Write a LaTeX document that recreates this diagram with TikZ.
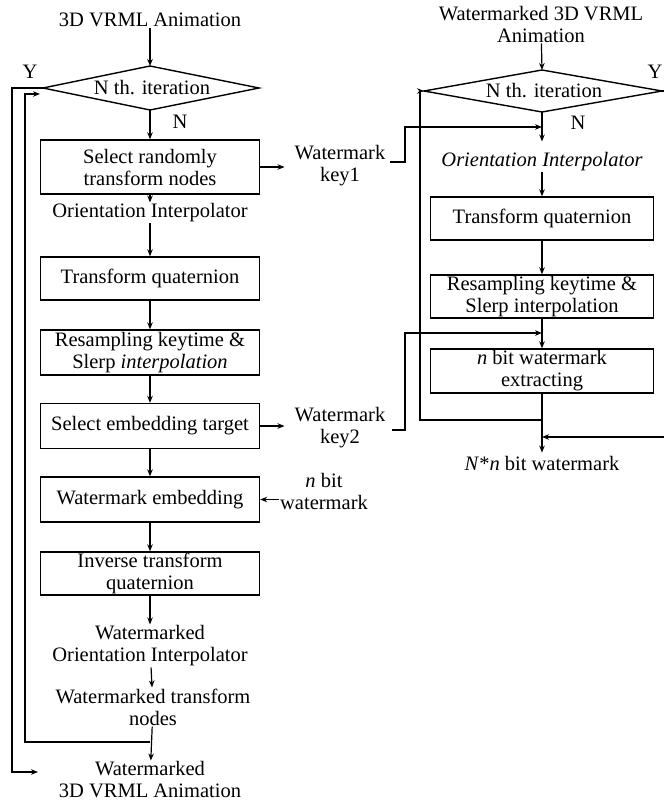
\documentclass[tikz,border=0pt]{standalone}
\usepackage{fontspec}
\setmainfont{Liberation Serif}
\usetikzlibrary{arrows.meta,calc}
\begin{document}
\begin{tikzpicture}[x=1pt,y=-1pt,
  txt/.style={font=\fontsize{20.5}{22}\selectfont, align=center, inner sep=1pt},
  box/.style={txt, draw, line width=1.4pt, minimum width=219pt, inner sep=0pt},
  conn/.style={line width=1.2pt},
  arr/.style={conn, -{Stealth[length=7pt,width=5.5pt]}},
  dmd/.style={line width=1.4pt, line join=miter}]
\useasboundingbox (0,0) rectangle (664,801);

% ---------------- left column ----------------
\node[txt] (t0) at (150,20) {3D VRML Animation};
\coordinate (d1t) at (150,66);
\coordinate (d1r) at (259,88);
\coordinate (d1b) at (150,110);
\coordinate (d1l) at (43,88);
\draw[dmd] (d1t) -- (d1r) -- (d1b) -- (d1l) -- cycle;
\node[txt] (d1) at (152,88) {N th. iteration};
\node[txt] (y1) at (30,72) {Y};
\node[txt] (n1) at (180,122) {N};

\node[box, minimum height=54pt] (b1) at (150,167) {Select randomly\\transform nodes};
\node[txt] (k1) at (340,166) {Watermark\\key1};
\node[txt] (o1) at (150,213) {Orientation Interpolator};
\node[box, minimum height=43pt] (b2) at (150,278.5) {Transform quaternion};
\node[box, minimum height=45pt] (b3) at (150,352.5) {Resampling keytime \&\\Slerp \textit{interpolation}};
\node[box, minimum height=45pt] (b4) at (150,426) {Select embedding target};
\node[txt] (k2) at (340,428) {Watermark\\key2};
\node[box, minimum height=45pt] (b5) at (150,499.5) {Watermark embedding};
\node[txt] (nb) at (324,491) {\textit{n} bit\\watermark};
\node[box, minimum height=43pt] (b6) at (150,573.5) {Inverse transform\\quaternion};
\node[txt] (o2) at (150,646) {Watermarked\\Orientation Interpolator};
\node[txt] (o3) at (153,707) {Watermarked transform\\nodes};
\node[txt] (o4) at (150,780) {Watermarked\\3D VRML Animation};

\draw[arr] (t0) -- (d1t);
\draw[arr] (d1b) -- (b1);
\draw[arr] (b1) -- (o1);
\draw[arr] (o1) -- (b2);
\draw[arr] (b2) -- (b3);
\draw[arr] (b3) -- (b4);
\draw[arr] (b4) -- (b5);
\draw[arr] (b5) -- (b6);
\draw[arr] (b6) -- (o2);
\draw[arr] (o2) -- (o3);
\draw[arr] (o3) -- (o4);
\draw[arr, shorten >=9pt] (b1.east) -- (b1.east -| k1.west);
\draw[arr, shorten >=9pt] (b4.east) -- (b4.east -| k2.west);
\draw[arr] (nb.west |- b5.east) -- (b5.east);

% loops
\coordinate (yl1) at (12,88);
\coordinate (yl2) at (12,772);
\coordinate (yend) at (38,772);
\draw[arr] (d1l) -- (yl1) -- (yl2) -- (yend);
\coordinate (lj) at (150,742);
\coordinate (il1) at (25,742);
\coordinate (il2) at (25,94);
\coordinate (ilend) at (40,94);
\draw[arr] (lj) -- (il1) -- (il2) -- (ilend);

% ---------------- right column ----------------
\node[txt] (t1) at (541,24) {Watermarked 3D VRML\\Animation};
\coordinate (d2t) at (542,70);
\coordinate (d2r) at (662,91);
\coordinate (d2b) at (542,112);
\coordinate (d2l) at (424,91);
\draw[dmd] (d2t) -- (d2r) -- (d2b) -- (d2l) -- cycle;
\node[txt] (d2) at (544,91) {N th. iteration};
\node[txt] (y2) at (655,72) {Y};
\node[txt] (n2) at (578,123) {N};

\node[txt] (o5) at (542,162) {\textit{Orientation Interpolator}};
\node[box, minimum width=223pt, minimum height=43pt] (b7) at (542,218.5) {Transform quaternion};
\node[box, minimum width=223pt, minimum height=43pt] (b8) at (542,296.5) {Resampling keytime \&\\Slerp interpolation};
\node[box, minimum width=223pt, minimum height=44pt] (b9) at (542,371) {\textit{n} bit watermark\\extracting};
\node[txt] (o6) at (542,463) {\textit{N}*\textit{n} bit watermark};

\draw[arr] (t1) -- (d2t);
\draw[arr, shorten >=10pt] (d2b) -- (o5);
\draw[arr] (o5) -- (b7);
\draw[arr] (b7) -- (b8);
\draw[arr] (b8) -- (b9);
\draw[arr, shorten >=2pt] (b9) -- (o6);

% watermark keys
\coordinate (k1a) at (390,162);
\coordinate (k1b) at (405,162);
\coordinate (k1c) at (405,127);
\coordinate (k1d) at (542,127);
\draw[arr] (k1a) -- (k1b) -- (k1c) -- (k1d);
\coordinate (k2a) at (392,430);
\coordinate (k2b) at (405,430);
\coordinate (k2c) at (405,333);
\coordinate (k2d) at (542,333);
\draw[arr] (k2a) -- (k2b) -- (k2c) -- (k2d);

% loop back and Y exit
\coordinate (rj) at (542,420);
\coordinate (rl1) at (420,420);
\coordinate (rl2) at (420,91);
\draw[arr] (rj) -- (rl1) -- (rl2) -- (d2l);
\coordinate (ry0) at (664,91);
\draw[conn] (d2r) -- (ry0);
\coordinate (ry1) at (664,437);
\coordinate (ry2) at (542,437);
\draw[arr] (ry1) -- (ry2);
\end{tikzpicture}
\end{document}
